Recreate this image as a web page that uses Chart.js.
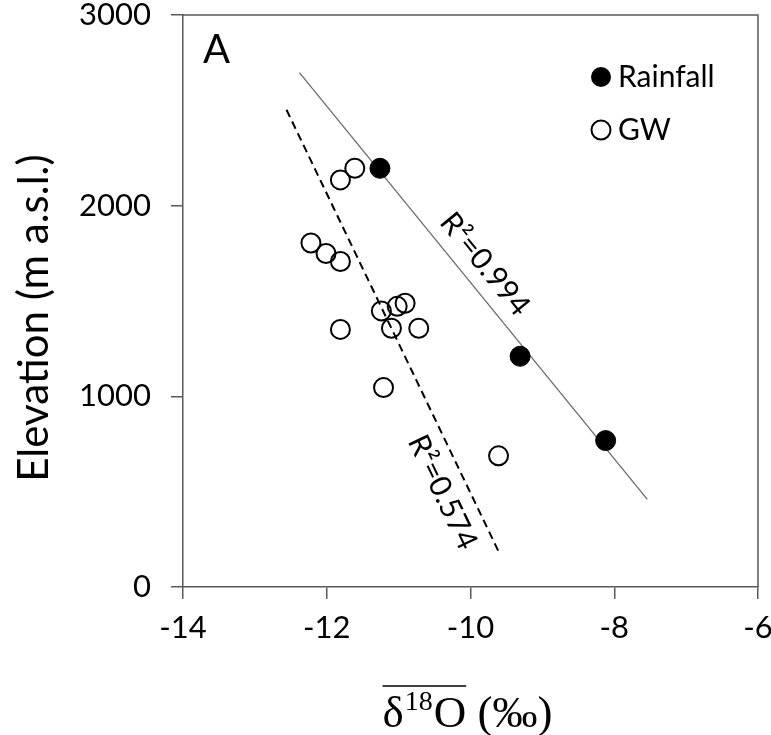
<!DOCTYPE html>
<html>
<head>
<meta charset="utf-8">
<script src="https://cdn.jsdelivr.net/npm/chart.js@4"></script>
<style>
  body { margin: 0; background: #fff; }
  #grafico { display: block; }
</style>
</head>
<body>
<canvas id="grafico" width="771" height="735"></canvas>
<script>
// Rainfall samples: mean d18O (permil) vs elevation (m a.s.l.)
const rainX = [-11.26, -9.31, -8.12];
const rainY = [2196, 1210, 768];

// Groundwater samples
const gwX = [-11.61, -11.81, -12.22, -12.01, -11.81, -11.81, -11.24, -11.02, -10.91, -11.10, -10.72, -11.21, -9.61];
const gwY = [2196, 2135, 1804, 1749, 1707, 1351, 1448, 1472, 1488, 1357, 1357, 1046, 688];

// Regression lines (end points)
const rainFitX = [-12.38, -7.54];
const rainFitY = [2698, 460];
const gwFitX = [-12.56, -9.59];
const gwFitY = [2503, 171];

// R2 labels and where they sit (data units)
const r2Text = ["R²=0.994", "R²=0.574"];
const r2X = [-9.80, -10.39];
const r2Y = [1693, 497];

const xMin = -14, xMax = -6, xStep = 2;
const yMin = 0, yMax = 3000, yStep = 1000;

const yTitle = "Elevation (m a.s.l.)";
const axisGray = "#595959";

function toPoints(xs, ys) {
  return xs.map((x, i) => ({ x: x, y: ys[i] }));
}

// frame, panel letter, legend, R2 labels and the axis titles
const extras = {
  id: "extras",
  afterDatasetsDraw(chart) {
    const ctx = chart.ctx;
    const area = chart.chartArea;
    const sx = chart.scales.x;
    const sy = chart.scales.y;
    ctx.save();

    // top and right edges of the box
    ctx.strokeStyle = axisGray;
    ctx.lineWidth = 1.5;
    ctx.beginPath();
    ctx.moveTo(area.left, area.top);
    ctx.lineTo(area.right, area.top);
    ctx.lineTo(area.right, area.bottom);
    ctx.stroke();

    // panel letter
    ctx.fillStyle = "#000";
    ctx.font = "40px Lato";
    ctx.textAlign = "left";
    ctx.textBaseline = "alphabetic";
    ctx.fillText("A", area.left + 20, area.top + 48);

    // legend
    const lx = area.left + 418;
    const ly = area.top + 62;
    ctx.font = "30px Lato";
    ctx.textBaseline = "middle";
    ctx.beginPath();
    ctx.arc(lx, ly, 10, 0, Math.PI * 2);
    ctx.fill();
    ctx.fillText("Rainfall", lx + 17, ly);
    ctx.beginPath();
    ctx.lineWidth = 2;
    ctx.strokeStyle = "#000";
    ctx.arc(lx, ly + 53, 9.5, 0, Math.PI * 2);
    ctx.stroke();
    ctx.fillText("GW", lx + 17, ly + 53);

    // R2 labels, rotated along their lines
    const fits = [[rainFitX, rainFitY], [gwFitX, gwFitY]];
    ctx.font = "30px Lato";
    ctx.textAlign = "center";
    for (let i = 0; i < fits.length; i++) {
      const fx = fits[i][0], fy = fits[i][1];
      const ang = Math.atan2(
        sy.getPixelForValue(fy[1]) - sy.getPixelForValue(fy[0]),
        sx.getPixelForValue(fx[1]) - sx.getPixelForValue(fx[0])
      );
      ctx.save();
      ctx.translate(sx.getPixelForValue(r2X[i]), sy.getPixelForValue(r2Y[i]));
      ctx.rotate(ang);
      ctx.fillText(r2Text[i], 0, 0);
      ctx.restore();
    }

    // y title
    ctx.save();
    ctx.translate(34, 318);
    ctx.rotate(-Math.PI / 2);
    ctx.font = "42px Lato";
    ctx.textAlign = "center";
    ctx.textBaseline = "middle";
    ctx.fillText(yTitle, 0, 0);
    ctx.restore();

    // x title: overlined delta18O (permil)
    const big = "45px 'Liberation Serif'";
    const small = "28px 'Liberation Serif'";
    ctx.textAlign = "left";
    ctx.textBaseline = "alphabetic";
    ctx.font = big;
    const wD = ctx.measureText("δ").width;
    const wO = ctx.measureText("O").width;
    const wTail = ctx.measureText(" (‰)").width;
    ctx.font = small;
    const w18 = ctx.measureText("18").width;
    const total = wD + w18 + wO + wTail;
    let tx = (area.left + area.right) / 2 - total / 2 - 4;
    const base = 727;
    const x0 = tx;
    ctx.font = big;
    ctx.fillText("δ", tx, base); tx += wD;
    ctx.font = small;
    ctx.fillText("18", tx + 1, base - 17); tx += w18 + 2;
    ctx.font = big;
    ctx.fillText("O", tx, base); tx += wO;
    const x1 = tx;
    ctx.fillText(" (‰)", tx, base);
    ctx.lineWidth = 1.5;
    ctx.beginPath();
    ctx.moveTo(x0, base - 41);
    ctx.lineTo(x1, base - 41);
    ctx.stroke();

    ctx.restore();
  }
};

const ctx = document.getElementById("grafico").getContext("2d");

new Chart(ctx, {
  type: "scatter",
  data: {
    datasets: [
      {
        label: "Rainfall",
        data: toPoints(rainX, rainY),
        pointRadius: 10,
        pointHoverRadius: 10,
        backgroundColor: "#000",
        borderColor: "#000",
        borderWidth: 1,
        order: 1
      },
      {
        label: "GW",
        data: toPoints(gwX, gwY),
        pointRadius: 9.5,
        pointHoverRadius: 9.5,
        backgroundColor: "rgba(0,0,0,0)",
        borderColor: "#000",
        borderWidth: 2,
        order: 2
      },
      {
        label: "Rainfall fit",
        data: toPoints(rainFitX, rainFitY),
        showLine: true,
        pointRadius: 0,
        borderColor: "#6a6a6a",
        borderWidth: 1.3,
        order: 3
      },
      {
        label: "GW fit",
        data: toPoints(gwFitX, gwFitY),
        showLine: true,
        pointRadius: 0,
        borderColor: "#000",
        borderWidth: 2,
        borderDash: [8, 5],
        order: 4
      }
    ]
  },
  options: {
    responsive: false,
    animation: false,
    layout: {
      padding: { top: 15, right: 13, left: 0, bottom: 0 }
    },
    plugins: {
      legend: { display: false },
      tooltip: { enabled: false }
    },
    scales: {
      x: {
        type: "linear",
        min: xMin,
        max: xMax,
        ticks: {
          stepSize: xStep,
          color: "#000",
          font: { family: "Lato", size: 31 },
          padding: 10
        },
        grid: {
          drawOnChartArea: false,
          tickLength: 12,
          color: axisGray,
          lineWidth: 1.5
        },
        border: { color: axisGray, width: 1.5 },
        afterFit(scale) {
          scale.height = 148;
          scale.paddingLeft = 0;
          scale.paddingRight = 0;
        }
      },
      y: {
        type: "linear",
        min: yMin,
        max: yMax,
        ticks: {
          stepSize: yStep,
          color: "#000",
          font: { family: "Lato", size: 31 },
          padding: 20,
          callback: (v) => String(v)
        },
        grid: {
          drawOnChartArea: false,
          tickLength: 12,
          color: axisGray,
          lineWidth: 1.5
        },
        border: { color: axisGray, width: 1.5 },
        afterFit(scale) {
          scale.width = 183;
          scale.paddingTop = 0;
          scale.paddingBottom = 0;
        }
      }
    }
  },
  plugins: [extras]
});
</script>
</body>
</html>
